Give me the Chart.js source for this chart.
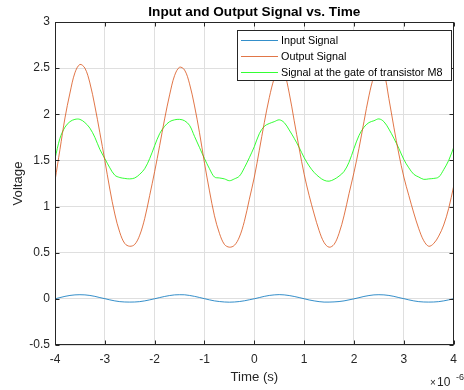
<!DOCTYPE html>
<html>
<head>
<meta charset="utf-8">
<script src="https://cdn.jsdelivr.net/npm/chart.js@4.4.1/dist/chart.umd.min.js"></script>
<style>
  html, body { margin: 0; padding: 0; background: #fff; }
  canvas { display: block; }
</style>
</head>
<body>
<canvas id="signals" width="464" height="390"></canvas>
<script>
// Time axis, in microseconds
const timeUs = [
  -4.0, -3.9, -3.8, -3.7, -3.6, -3.5, -3.4, -3.3, -3.2, -3.1,
  -3.0, -2.9, -2.8, -2.7, -2.6, -2.5, -2.4, -2.3, -2.2, -2.1,
  -2.0, -1.9, -1.8, -1.7, -1.6, -1.5, -1.4, -1.3, -1.2, -1.1,
  -1.0, -0.9, -0.8, -0.7, -0.6, -0.5, -0.4, -0.3, -0.2, -0.1,
  0.0, 0.1, 0.2, 0.3, 0.4, 0.5, 0.6, 0.7, 0.8, 0.9,
  1.0, 1.1, 1.2, 1.3, 1.4, 1.5, 1.6, 1.7, 1.8, 1.9,
  2.0, 2.1, 2.2, 2.3, 2.4, 2.5, 2.6, 2.7, 2.8, 2.9,
  3.0, 3.1, 3.2, 3.3, 3.4, 3.5, 3.6, 3.7, 3.8, 3.9,
  4.0
];

// Voltages (V)
const inputSignal = [
  0.000, 0.014, 0.027, 0.037, 0.043, 0.045, 0.043, 0.037, 0.027, 0.014,
  0.002, -0.011, -0.022, -0.030, -0.034, -0.035, -0.034, -0.030, -0.022, -0.011,
  0.001, 0.014, 0.026, 0.036, 0.043, 0.045, 0.044, 0.037, 0.027, 0.015,
  0.002, -0.011, -0.022, -0.029, -0.034, -0.036, -0.034, -0.029, -0.021, -0.010,
  0.001, 0.014, 0.027, 0.037, 0.043, 0.046, 0.043, 0.036, 0.026, 0.014,
  0.001, -0.012, -0.022, -0.030, -0.035, -0.035, -0.033, -0.029, -0.022, -0.011,
  0.000, 0.013, 0.026, 0.036, 0.043, 0.045, 0.043, 0.037, 0.027, 0.014,
  0.002, -0.011, -0.022, -0.030, -0.034, -0.035, -0.034, -0.030, -0.022, -0.011,
  0.001
];

const outputSignal = [
  1.28, 1.62, 1.96, 2.23, 2.45, 2.54, 2.50, 2.34, 2.09, 1.80,
  1.50, 1.19, 0.92, 0.72, 0.60, 0.57, 0.59, 0.69, 0.87, 1.12,
  1.38, 1.66, 1.95, 2.21, 2.42, 2.51, 2.48, 2.33, 2.09, 1.80,
  1.47, 1.17, 0.90, 0.71, 0.59, 0.56, 0.58, 0.67, 0.84, 1.08,
  1.32, 1.61, 1.91, 2.18, 2.39, 2.51, 2.45, 2.23, 1.93, 1.63,
  1.35, 1.12, 0.92, 0.74, 0.61, 0.56, 0.59, 0.71, 0.90, 1.14,
  1.37, 1.63, 1.92, 2.20, 2.41, 2.51, 2.45, 2.17, 1.86, 1.57,
  1.32, 1.12, 0.93, 0.76, 0.63, 0.57, 0.60, 0.68, 0.80, 0.98,
  1.22
];

const gateSignal = [
  1.52, 1.74, 1.86, 1.92, 1.945, 1.945, 1.91, 1.85, 1.75, 1.62,
  1.52, 1.42, 1.34, 1.315, 1.305, 1.30, 1.31, 1.35, 1.41, 1.52,
  1.66, 1.79, 1.87, 1.92, 1.94, 1.945, 1.93, 1.88, 1.76, 1.64,
  1.52, 1.41, 1.32, 1.31, 1.30, 1.28, 1.30, 1.33, 1.42, 1.53,
  1.65, 1.79, 1.87, 1.90, 1.92, 1.94, 1.91, 1.83, 1.74, 1.64,
  1.53, 1.44, 1.37, 1.32, 1.285, 1.275, 1.295, 1.33, 1.38, 1.48,
  1.63, 1.77, 1.86, 1.91, 1.93, 1.95, 1.92, 1.84, 1.74, 1.63,
  1.51, 1.42, 1.35, 1.32, 1.295, 1.30, 1.305, 1.32, 1.40, 1.50,
  1.64
];

const seriesNames = ['Input Signal', 'Output Signal', 'Signal at the gate of transistor M8'];
const seriesColors = ['rgb(0, 114, 189)', 'rgb(217, 83, 25)', 'rgb(0, 255, 0)'];
const xTicks = [-4, -3, -2, -1, 0, 1, 2, 3, 4];
const yTicks = [-0.5, 0, 0.5, 1, 1.5, 2, 2.5, 3];

const FONT = '"Liberation Sans", Arial, Helvetica, sans-serif';
const INK = '#262626';

function pairs(ys) {
  return timeUs.map((t, i) => ({ x: t, y: ys[i] }));
}

// axes box with inward ticks
const frame = {
  id: 'frame',
  afterDatasetsDraw(chart) {
    const { ctx, chartArea: a, scales } = chart;
    const L = Math.round(a.left) + 0.5, R = Math.round(a.right) - 0.5;
    const T = Math.round(a.top) + 0.5, B = Math.round(a.bottom) - 0.5;
    ctx.save();
    ctx.strokeStyle = INK;
    ctx.lineWidth = 1;
    ctx.strokeRect(L, T, R - L, B - T);
    ctx.beginPath();
    xTicks.forEach(v => {
      const px = Math.round(scales.x.getPixelForValue(v)) + 0.5;
      ctx.moveTo(px, B); ctx.lineTo(px, B - 4);
      ctx.moveTo(px, T); ctx.lineTo(px, T + 4);
    });
    yTicks.forEach(v => {
      const py = Math.round(scales.y.getPixelForValue(v)) + 0.5;
      ctx.moveTo(L, py); ctx.lineTo(L + 4, py);
      ctx.moveTo(R, py); ctx.lineTo(R - 4, py);
    });
    ctx.stroke();
    ctx.restore();
  }
};

// legend box, title and axis labels
const annotations = {
  id: 'annotations',
  afterDraw(chart) {
    const { ctx, chartArea: a } = chart;
    const cx = (a.left + a.right) / 2;
    ctx.save();

    const lx = 237, ly = 30, lw = 215, lh = 51;
    ctx.fillStyle = '#fff';
    ctx.fillRect(lx, ly, lw, lh);
    ctx.lineWidth = 1;
    ctx.strokeStyle = INK;
    ctx.strokeRect(lx + 0.5, ly + 0.5, lw - 1, lh - 1);
    ctx.font = '10.8px ' + FONT;
    ctx.textBaseline = 'middle';
    ctx.textAlign = 'left';
    for (let i = 0; i < seriesNames.length; i++) {
      const cy = ly + 10.5 + i * 16;
      ctx.beginPath();
      ctx.strokeStyle = seriesColors[i];
      ctx.lineWidth = 0.8;
      ctx.moveTo(lx + 4, cy);
      ctx.lineTo(lx + 41, cy);
      ctx.stroke();
      ctx.fillStyle = '#000';
      ctx.fillText(seriesNames[i], lx + 44, cy + 0.5);
    }

    ctx.textAlign = 'center';
    ctx.textBaseline = 'alphabetic';
    ctx.font = 'bold 13.6px ' + FONT;
    ctx.fillText('Input and Output Signal vs. Time', cx, 16);

    ctx.fillStyle = INK;
    ctx.font = '13.2px ' + FONT;
    ctx.fillText('Time (s)', cx, 381);

    ctx.save();
    ctx.translate(22, (a.top + a.bottom) / 2);
    ctx.rotate(-Math.PI / 2);
    ctx.fillText('Voltage', 0, 0);
    ctx.restore();

    // exponent of the time axis
    ctx.textAlign = 'left';
    ctx.font = '10px ' + FONT;
    ctx.fillText('\u00d7', 430, 386);
    ctx.font = '12px ' + FONT;
    ctx.fillText('10', 437, 386);
    ctx.font = '9px ' + FONT;
    ctx.fillText('-6', 456, 380);
    ctx.restore();
  }
};

new Chart(document.getElementById('signals'), {
  type: 'line',
  data: {
    datasets: seriesNames.map((name, i) => ({
      label: name,
      data: pairs([inputSignal, outputSignal, gateSignal][i]),
      borderColor: seriesColors[i]
    }))
  },
  options: {
    responsive: false,
    animation: false,
    layout: { padding: { top: 22, right: 1, left: 0, bottom: 0 } },
    elements: {
      point: { radius: 0 },
      line: { borderWidth: 0.8, tension: 0.35, fill: false }
    },
    plugins: { legend: { display: false }, title: { display: false }, tooltip: { enabled: false } },
    scales: {
      x: {
        type: 'linear', min: -4, max: 4,
        afterBuildTicks: s => { s.ticks = xTicks.map(v => ({ value: v })); },
        afterFit: s => { s.height = 45; },
        grid: { color: '#dfdfdf', drawTicks: false },
        border: { display: false },
        ticks: { color: INK, font: { family: FONT, size: 12 }, padding: 7, maxRotation: 0, callback: v => String(v) }
      },
      y: {
        type: 'linear', min: -0.5, max: 3,
        afterBuildTicks: s => { s.ticks = yTicks.map(v => ({ value: v })); },
        afterFit: s => { s.width = 55; },
        grid: { color: '#dfdfdf', drawTicks: false },
        border: { display: false },
        ticks: { color: INK, font: { family: FONT, size: 12 }, padding: 5, callback: v => String(v) }
      }
    }
  },
  plugins: [frame, annotations]
});
</script>
</body>
</html>
